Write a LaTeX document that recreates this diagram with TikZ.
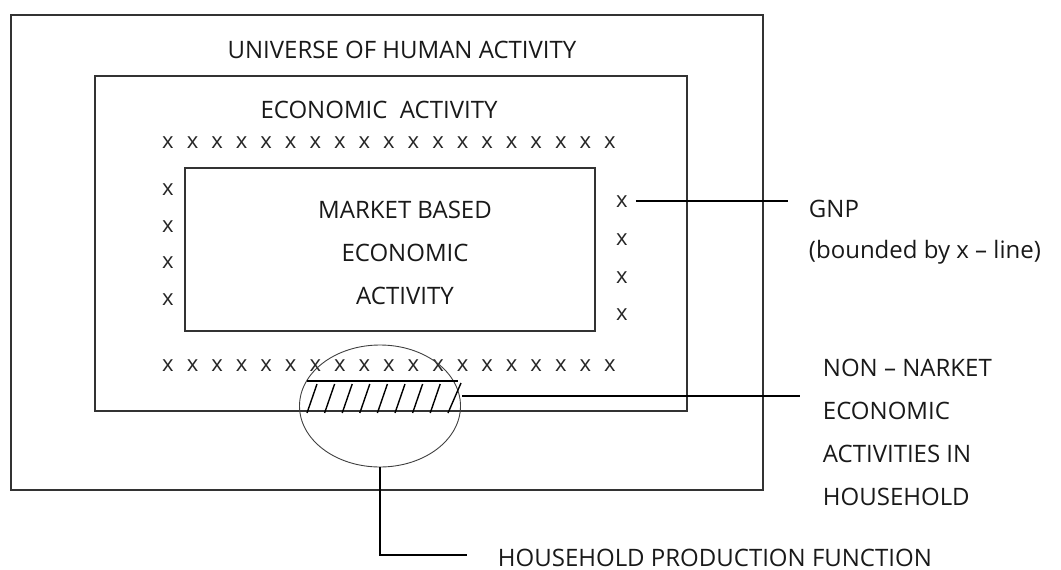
\documentclass[tikz,border=0pt]{standalone}
\usepackage{fontspec}
\setmainfont{Open Sans}
\usetikzlibrary{shapes.geometric}
\begin{document}
\begin{tikzpicture}[x=1pt,y=1pt,yscale=-1,xscale=1,
  lbl/.style={inner sep=0.75pt,font=\fontsize{24}{28}\selectfont,text=black!90},
  xmark/.style={inner sep=0pt,font=\fontsize{22}{26}\selectfont,text=black!85,anchor=base},
  frame/.style={draw=black!80,line width=1.1pt},
  lead/.style={draw=black,line width=1.6pt}]
\useasboundingbox (0,0) rectangle (1061,570);
%Shape: Rectangles
\draw[frame] (11,15) rectangle (763,490);
\draw[frame] (95,76) rectangle (687,411);
\draw[frame] (185,168) rectangle (595,331);

% Text Node
\node[lbl,anchor=base] (universe) at (402,58) {UNIVERSE OF HUMAN ACTIVITY};
% Text Node
\node[lbl,anchor=base] (econ) at (379,118) {ECONOMIC\ \ ACTIVITY};
% Text Node
\node[lbl,anchor=base] (mkt1) at (405,218) {MARKET BASED};
\node[lbl,anchor=base] (mkt2) at (405,261) {ECONOMIC};
\node[lbl,anchor=base] (mkt3) at (405,304) {ACTIVITY};

%x - line
\foreach \i in {0,...,18} {
  \node[xmark] (t\i) at ({168+\i*24.55},148) {x};
  \node[xmark] (b\i) at ({168+\i*24.55},371) {x};
}
\foreach \y [count=\k] in {195,232,268,305}
  \node[xmark] (l\k) at (168,\y) {x};
\foreach \y [count=\k] in {207,245,283,320}
  \node[xmark] (r\k) at (622,\y) {x};

%Shape: Ellipse
\node[ellipse,draw=black!75,line width=0.9pt,minimum width=161,minimum height=122,inner sep=0pt] (hh) at (380,406) {};

%Shape: Hatch
\coordinate (hatchL) at (307,381);
\coordinate (hatchR) at (458,381);
\draw[line width=1.8pt] (hatchL) -- (hatchR);
\foreach \i in {0,...,7}
  \draw[line width=1.4pt] ({307+\i*17.6},413) -- ({317+\i*17.6},384);
\draw[line width=1.4pt] (448,413) -- (461,383);

% Text Node
\node[lbl,anchor=base west] (gnp) at (808,217) {GNP};
\node[lbl,anchor=base west] (bounded) at (808,258) {(bounded by x -- line)};
% Text Node
\node[lbl,anchor=base west] (nm1) at (822,376) {NON -- NARKET};
\node[lbl,anchor=base west] (nm2) at (822,419) {ECONOMIC};
\node[lbl,anchor=base west] (nm3) at (822,462) {ACTIVITIES IN};
\node[lbl,anchor=base west] (nm4) at (822,505) {HOUSEHOLD};
% Text Node
\node[lbl,anchor=base west] (hpf) at (497,566) {HOUSEHOLD PRODUCTION FUNCTION};

%Leader lines
\coordinate (gnpEnd) at (788,201);
\coordinate (nmEnd) at (800,396);
\coordinate (hpfEnd) at (467,555);
\draw[lead] ([xshift=8pt]r1.east |- gnpEnd) -- (gnpEnd);
\draw[lead] (462,396) -- (nmEnd);
\draw[lead] (hh.south) -- (hh.south |- hpfEnd) -- (hpfEnd);
\end{tikzpicture}
\end{document}
